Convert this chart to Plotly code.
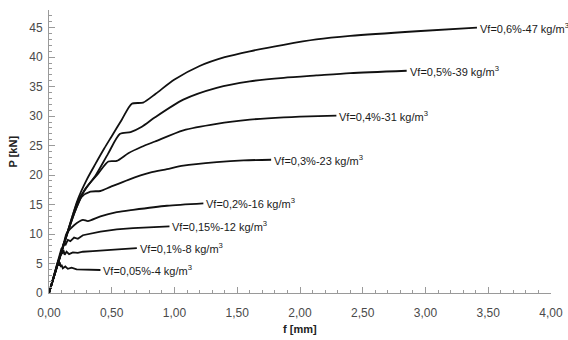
import plotly.graph_objects as go

# ---- data ----
f_06 = [0, 0.15, 0.23, 0.30, 0.37, 0.44, 0.50, 0.58, 0.66, 0.75, 0.85, 1.00, 1.20, 1.40, 1.60, 1.87, 2.13, 2.40, 2.93, 3.41]
p_06 = [0, 10.5, 15.9, 19.2, 21.9, 24.5, 26.6, 29.4, 32.1, 32.3, 33.8, 36.2, 38.5, 40.0, 41.0, 42.1, 43.0, 43.6, 44.4, 45.0]

f_05 = [0, 0.15, 0.23, 0.30, 0.37, 0.47, 0.566, 0.65, 0.74, 0.845, 1.07, 1.336, 1.60, 1.87, 2.13, 2.40, 2.85]
p_05 = [0, 10.5, 15.6, 17.9, 19.9, 23.6, 27.0, 27.3, 28.2, 29.8, 32.8, 34.8, 35.9, 36.5, 36.9, 37.3, 37.7]

f_04 = [0, 0.15, 0.22, 0.287, 0.393, 0.473, 0.54, 0.632, 0.739, 0.845, 1.07, 1.336, 1.60, 1.87, 2.00, 2.29]
p_04 = [0, 10.4, 14.5, 17.6, 20.3, 22.3, 22.4, 23.7, 24.8, 25.7, 27.6, 28.7, 29.4, 29.8, 29.9, 30.1]

f_03 = [0, 0.15, 0.21, 0.26, 0.33, 0.41, 0.49, 0.632, 0.805, 0.94, 1.07, 1.336, 1.55, 1.77]
p_03 = [0, 10.3, 14.0, 16.3, 17.2, 17.3, 18.0, 19.2, 20.4, 21.0, 21.6, 22.2, 22.5, 22.6]

f_02 = [0, 0.12, 0.14, 0.20, 0.27, 0.31, 0.41, 0.54, 0.67, 0.94, 1.23]
p_02 = [0, 8.6, 10.1, 11.5, 12.4, 12.2, 13.0, 13.7, 14.1, 14.8, 15.2]

f_015 = [0, 0.11, 0.12, 0.13, 0.15, 0.17, 0.20, 0.23, 0.27, 0.41, 0.54, 0.67, 0.96]
p_015 = [0, 7.8, 8.6, 8.1, 9.0, 8.8, 9.4, 9.2, 9.8, 10.4, 10.8, 11.0, 11.3]

f_01 = [0, 0.09, 0.10, 0.105, 0.115, 0.125, 0.14, 0.16, 0.19, 0.23, 0.27, 0.35, 0.45, 0.55, 0.70]
p_01 = [0, 6.6, 7.6, 6.6, 7.3, 6.5, 7.0, 6.6, 6.9, 6.8, 7.0, 7.1, 7.2, 7.4, 7.6]

f_005 = [0, 0.065, 0.075, 0.08, 0.085, 0.095, 0.10, 0.11, 0.13, 0.15, 0.18, 0.22, 0.27, 0.34, 0.41]
p_005 = [0, 4.8, 5.6, 4.6, 5.2, 4.4, 4.8, 4.2, 4.5, 4.1, 4.3, 4.0, 4.0, 3.9, 3.9]

series_labels = [
    "Vf=0,6%-47 kg/m<sup>3</sup>",
    "Vf=0,5%-39 kg/m<sup>3</sup>",
    "Vf=0,4%-31 kg/m<sup>3</sup>",
    "Vf=0,3%-23 kg/m<sup>3</sup>",
    "Vf=0,2%-16 kg/m<sup>3</sup>",
    "Vf=0,15%-12 kg/m<sup>3</sup>",
    "Vf=0,1%-8 kg/m<sup>3</sup>",
    "Vf=0,05%-4 kg/m<sup>3</sup>",
]

x_tickvals = [0, 0.5, 1.0, 1.5, 2.0, 2.5, 3.0, 3.5, 4.0]
x_ticktext = ["0,00", "0,50", "1,00", "1,50", "2,00", "2,50", "3,00", "3,50", "4,00"]
y_tickvals = [0, 5, 10, 15, 20, 25, 30, 35, 40, 45]

xs = [f_06, f_05, f_04, f_03, f_02, f_015, f_01, f_005]
ys = [p_06, p_05, p_04, p_03, p_02, p_015, p_01, p_005]
shapes = ["spline", "spline", "spline", "spline", "spline", "linear", "linear", "linear"]

FONT = "Liberation Sans, Arial, sans-serif"

fig = go.Figure()
for fx, py, lab, sh in zip(xs, ys, series_labels, shapes):
    fig.add_trace(go.Scatter(x=fx, y=py, mode="lines",
                             line=dict(color="#111111", width=1.8, shape=sh, smoothing=0.7),
                             showlegend=False, hoverinfo="skip"))
    fig.add_annotation(x=fx[-1], y=py[-1], text=lab, showarrow=False,
                       xanchor="left", yanchor="middle", xshift=1,
                       font=dict(family=FONT, size=11, color="#1a1a1a"))

axis_font = dict(family=FONT, size=12, color="#4a4a4a")

# axis titles placed in pixels relative to the plot area
fig.add_annotation(xref="paper", yref="paper", x=0, y=0.5, xshift=-37,
                   text="<b>P [kN]</b>", textangle=-90, showarrow=False,
                   xanchor="center", yanchor="middle",
                   font=dict(family=FONT, size=11, color="#222222"))
fig.add_annotation(xref="paper", yref="paper", x=0.5, y=0, yshift=-36,
                   text="<b>f [mm]</b>", showarrow=False,
                   xanchor="center", yanchor="middle",
                   font=dict(family=FONT, size=11, color="#222222"))

fig.update_layout(
    width=568, height=340,
    margin=dict(l=49, r=17, t=10, b=47, autoexpand=False),
    plot_bgcolor="white", paper_bgcolor="white",
    font=axis_font,
)
fig.update_xaxes(
    range=[0, 4], tickvals=x_tickvals, ticktext=x_ticktext, automargin=False,
    showgrid=False, zeroline=False, showline=True, linecolor="#9a9a9a", linewidth=1,
    ticks="inside", ticklen=6, tickcolor="#9a9a9a", ticklabelstandoff=9,
    minor=dict(dtick=0.1, ticks="inside", ticklen=3, tickcolor="#9a9a9a", showgrid=False),
    tickfont=axis_font,
)
fig.update_yaxes(
    range=[0, 48], tickvals=y_tickvals, automargin=False,
    showgrid=False, zeroline=False, showline=True, linecolor="#9a9a9a", linewidth=1,
    ticks="inside", ticklen=6, tickcolor="#9a9a9a", ticklabelstandoff=3,
    minor=dict(dtick=1, ticks="inside", ticklen=3, tickcolor="#9a9a9a", showgrid=False),
    tickfont=axis_font,
)

fig.write_html("out.html", config={"displayModeBar": False},
               post_script="document.body.style.margin='0';document.body.style.overflow='hidden';")
